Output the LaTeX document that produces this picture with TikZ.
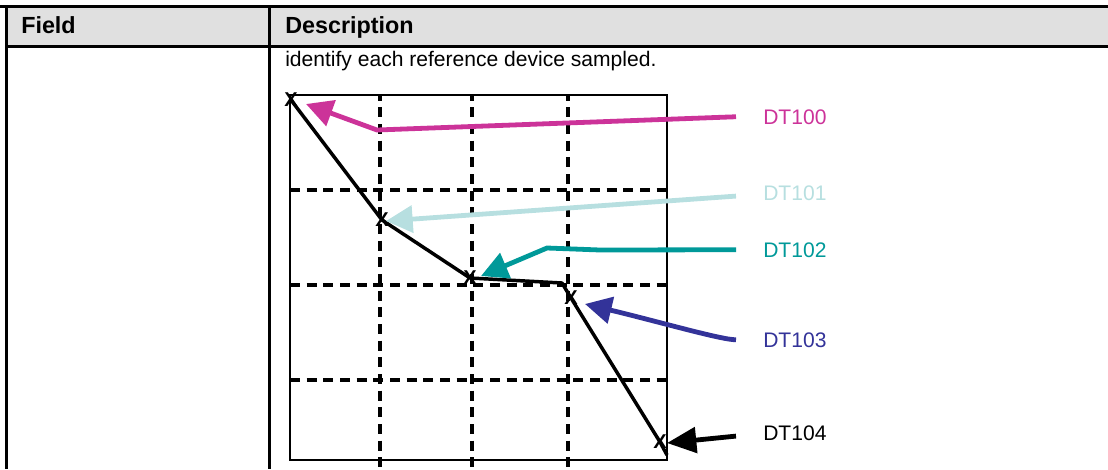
\documentclass[tikz,border=0pt]{standalone}
\usepackage{fontspec}
\setmainfont{Liberation Sans}
\usetikzlibrary{arrows.meta}
\definecolor{hdrgray}{HTML}{E0E0E0}
\definecolor{dtmagenta}{HTML}{CC3399}
\definecolor{dtlight}{HTML}{B7DFE0}
\definecolor{dtteal}{HTML}{009999}
\definecolor{dtnavy}{HTML}{333399}
\begin{document}
\begin{tikzpicture}[x=0.75pt,y=-0.75pt,
  hdr/.style={anchor=base west,inner sep=0pt,font=\fontsize{17.5}{20}\bfseries},
  txt/.style={anchor=base west,inner sep=0pt,font=\fontsize{15.8}{19}\selectfont},
  xmk/.style={inner sep=0pt,font=\fontsize{15}{15}\bfseries},
  gridline/.style={line width=2.5pt,dash pattern=on 7.5pt off 5pt},
  pointer/.style={line width=3.6pt,-{Triangle[length=20pt,width=20pt]}}]
\useasboundingbox (0,0) rectangle (1108,469);
% table frame
\fill[hdrgray] (6,6) rectangle (1108,46.5);
\draw[line width=2pt] (0,6.3) -- (1108,6.3);
\draw[line width=1.9pt] (6.3,46.5) -- (1108,46.5);
\draw[line width=2pt] (6.3,5.5) -- (6.3,469);
\draw[line width=1.9pt] (269.7,6.3) -- (269.7,469);
\node[hdr] (field) at (21,33.5) {Field};
\node[hdr] (desc) at (285,33.5) {Description};
\node[txt] (intro) at (285,66) {identify each reference device sampled.};
% grid
\foreach \y in {190,285,380}
  \draw[gridline] (290,\y) -- (667,\y);
\foreach \x in {380,472,568}
  \draw[gridline,dash phase=4pt] (\x,96) -- (\x,469);
\draw[line width=2pt] (290,95) rectangle (667,460);
% sampled points
\foreach \n/\p in {0/{(291,100)},1/{(382,220)},2/{(470,278)},3/{(571,298)},4/{(660,442)}}
  \node[xmk] (mk\n) at \p {X};
\coordinate (kink) at (562,283);
\coordinate (tail) at (667,455);
\draw[line width=2.6pt,line join=round] (mk0.center) -- (mk1.center) -- (mk2.center)
  -- (kink) -- (mk3.center) -- (mk4.center) -- (tail);
% labels and pointers
\node[txt,text=dtmagenta] (d100) at (763,124) {DT100};
\node[txt,text=dtlight] (d101) at (763,200) {DT101};
\node[txt,text=dtteal] (d102) at (763,257) {DT102};
\node[txt,text=dtnavy] (d103) at (763,347) {DT103};
\node[txt] (d104) at (763,440) {DT104};
\coordinate (t100) at (306,104);
\coordinate (t101) at (386,221);
\coordinate (t102) at (481,276);
\coordinate (t103) at (585,304);
\coordinate (t104) at (667,443);
\draw[pointer,dtmagenta] ([xshift=-20.25pt]d100.west) -- (377,130) -- (t100);
\draw[pointer,dtlight] ([xshift=-20.25pt,yshift=-2.5pt]d101.west) -- (t101);
\draw[pointer,dtteal] ([xshift=-20.25pt]d102.west) -- (600,250) -- (547,248) -- (t102);
\draw[pointer,dtnavy] ([xshift=-20.25pt]d103.west) .. controls (722,340) and (660,322) .. (t103);
\draw[line width=3.6pt,-{Triangle[length=22pt,width=19pt]}] ([xshift=-20.25pt,yshift=-2.5pt]d104.west) -- (t104);
\end{tikzpicture}
\end{document}
